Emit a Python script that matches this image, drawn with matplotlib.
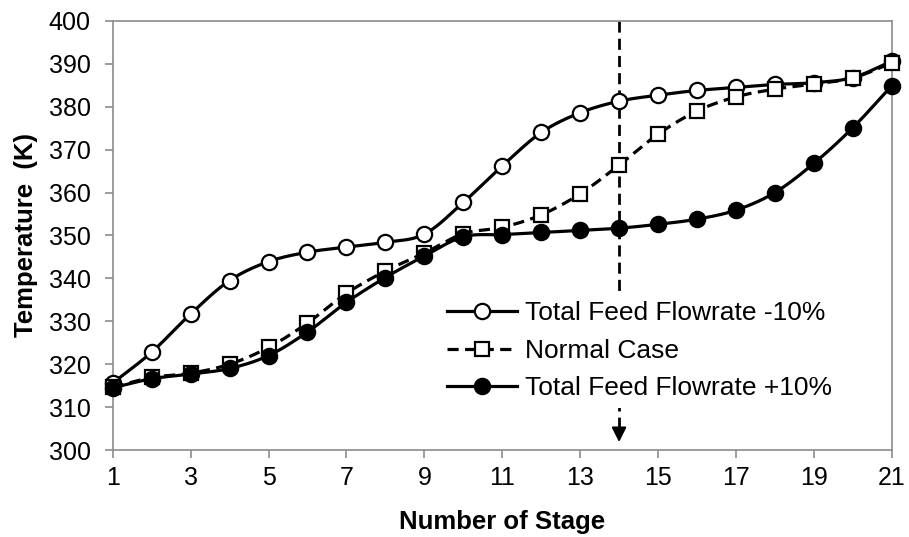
"""Temperature profile along the column for three feed flowrate cases."""
import matplotlib

matplotlib.use("Agg")
import matplotlib.pyplot as plt
import numpy as np

plt.rcParams["font.family"] = ["Liberation Sans", "DejaVu Sans"]

stages = list(range(1, 22))
temp_minus10 = [315.6, 322.8, 331.7, 339.5, 343.9, 346.1, 347.3, 348.4, 350.3, 357.7,
                366.2, 374.0, 378.6, 381.3, 382.7, 383.8, 384.5, 385.2, 385.6, 386.8, 390.6]
temp_normal = [314.6, 316.9, 317.9, 320.0, 323.9, 329.6, 336.5, 341.7, 345.9, 350.4,
               351.9, 354.8, 359.7, 366.4, 373.6, 379.0, 382.3, 384.1, 385.3, 386.7, 390.2]
temp_plus10 = [314.5, 316.6, 317.7, 319.0, 322.0, 327.5, 334.4, 340.2, 345.2, 349.7,
               350.2, 350.7, 351.2, 351.7, 352.6, 353.8, 355.9, 360.0, 366.8, 375.1, 384.9]
series_labels = ["Total Feed Flowrate -10%", "Normal Case", "Total Feed Flowrate +10%"]
feed_stage = 14
x_ticks = list(range(1, 22, 2))
y_ticks = list(range(300, 401, 10))


def smooth(x, y, n=20):
    """Catmull-Rom curve through the points (like Excel's smoothed line)."""
    x = np.asarray(x, float)
    y = np.asarray(y, float)
    px = np.concatenate([[2 * x[0] - x[1]], x, [2 * x[-1] - x[-2]]])
    py = np.concatenate([[2 * y[0] - y[1]], y, [2 * y[-1] - y[-2]]])
    t = np.linspace(0, 1, n, endpoint=False)
    xs, ys = [], []
    for i in range(1, len(px) - 2):
        for arr, out in ((px, xs), (py, ys)):
            p0, p1, p2, p3 = arr[i - 1], arr[i], arr[i + 1], arr[i + 2]
            out.extend(0.5 * (2 * p1 + (-p0 + p2) * t + (2 * p0 - 5 * p1 + 4 * p2 - p3) * t ** 2
                              + (-p0 + 3 * p1 - 3 * p2 + p3) * t ** 3))
    xs.append(x[-1])
    ys.append(y[-1])
    return np.array(xs), np.array(ys)


fig = plt.figure(figsize=(9.09, 5.37), dpi=100)
ax = fig.add_axes([0.124, 0.162, 0.857, 0.799])

styles = [
    dict(ls="-", marker="o", mfc="white", ms=11),
    dict(ls=(0, (3.5, 2)), marker="s", mfc="white", ms=10.5),
    dict(ls="-", marker="o", mfc="black", ms=11),
]
handles = []
for temps, label, st in zip([temp_minus10, temp_normal, temp_plus10], series_labels, styles):
    sx, sy = smooth(stages, temps)
    ax.plot(sx, sy, color="black", lw=2.3, ls=st["ls"], clip_on=False, zorder=3)
    ax.plot(stages, temps, ls="none", marker=st["marker"], ms=st["ms"], mfc=st["mfc"],
            mec="black", mew=1.6, clip_on=False, zorder=4)
    h, = ax.plot([], [], color="black", lw=2.3, ls=st["ls"], marker=st["marker"],
                 ms=st["ms"], mfc=st["mfc"], mec="black", mew=1.6, label=label)
    handles.append(h)

# feed stage marker: dashed vertical line with an arrow head
ax.plot([feed_stage, feed_stage], [400, 304.5], color="black", lw=2.0,
        ls=(0, (4, 2.2)), zorder=2)
ax.annotate("", xy=(feed_stage, 301.2), xytext=(feed_stage, 305),
            arrowprops=dict(arrowstyle="-|>", color="black", lw=1.5, mutation_scale=22))

ax.set_xlim(1, 21)
ax.set_ylim(300, 400)
ax.set_xticks(x_ticks)
ax.set_yticks(y_ticks)
for s in ax.spines.values():
    s.set_color("#8c8c8c")
    s.set_linewidth(1.2)
ax.tick_params(direction="out", length=5.8, width=1.2, color="#8c8c8c", labelsize=18)
ax.tick_params(axis="x", pad=6)
ax.tick_params(axis="y", pad=10)
ax.set_xlabel("Number of Stage", fontsize=18.5, fontweight="bold", labelpad=14)
ax.set_ylabel("Temperature  (K)", fontsize=18.5, fontweight="bold", labelpad=8)

leg = ax.legend(handles=handles, loc="upper left", bbox_to_anchor=(0.419, 0.365),
                frameon=True, fancybox=False, fontsize=19, handlelength=2.65,
                handletextpad=0.3, labelspacing=0.51, borderaxespad=0, borderpad=0.3)
leg.get_frame().set_facecolor("white")
leg.get_frame().set_edgecolor("none")
leg.get_frame().set_alpha(1)

fig.savefig("out.png", dpi=100)
